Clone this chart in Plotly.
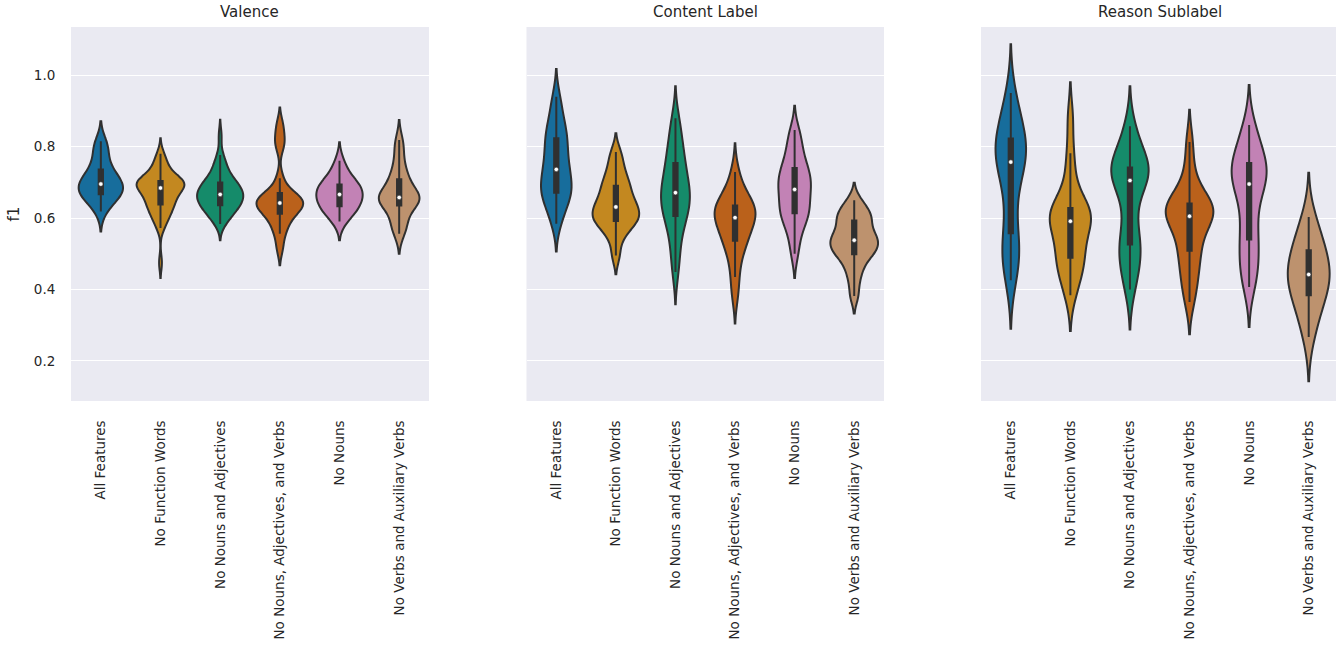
import colorsys

import numpy as np
import plotly.graph_objects as go

# ---- categories / panels -------------------------------------------------
CATEGORIES = [
    "All Features",
    "No Function Words",
    "No Nouns and Adjectives",
    "No Nouns, Adjectives, and Verbs",
    "No Nouns",
    "No Verbs and Auxiliary Verbs",
]
PANELS = ["Valence", "Content Label", "Reason Sublabel"]
PALETTE = ["#0173b2", "#de8f05", "#029e73", "#d55e00", "#cc78bc", "#ca9161"]

# ---- f1 scores per run, Valence -----------------------------------------
valence_all_features = [0.618, 0.640, 0.652, 0.660, 0.665, 0.668, 0.675, 0.682, 0.688, 0.693,
                        0.697, 0.702, 0.710, 0.720, 0.732, 0.740, 0.760, 0.785, 0.800, 0.815]
valence_no_function = [0.475, 0.572, 0.585, 0.596, 0.605, 0.612, 0.619, 0.625, 0.631, 0.636,
                       0.640, 0.645, 0.650, 0.655, 0.660, 0.665, 0.670, 0.674, 0.678, 0.682,
                       0.686, 0.689, 0.692, 0.694, 0.696, 0.698, 0.699, 0.700, 0.701, 0.702,
                       0.705, 0.709, 0.714, 0.720, 0.727, 0.735, 0.745, 0.755, 0.767, 0.780]
valence_no_nouns_adj = [0.583, 0.592, 0.600, 0.607, 0.613, 0.618, 0.623, 0.627, 0.631, 0.634,
                        0.637, 0.641, 0.645, 0.648, 0.651, 0.654, 0.657, 0.660, 0.662, 0.664,
                        0.668, 0.671, 0.674, 0.677, 0.680, 0.684, 0.688, 0.692, 0.695, 0.698,
                        0.701, 0.706, 0.712, 0.720, 0.728, 0.738, 0.748, 0.760, 0.776, 0.830]
valence_no_nouns_adj_verbs = [0.516, 0.556, 0.575, 0.592, 0.608, 0.616, 0.622, 0.630, 0.636, 0.640,
                              0.644, 0.648, 0.653, 0.660, 0.667, 0.673, 0.711, 0.800, 0.825, 0.861]
valence_no_nouns = [0.590, 0.605, 0.615, 0.624, 0.631, 0.635, 0.642, 0.650, 0.657, 0.663,
                    0.669, 0.674, 0.680, 0.686, 0.692, 0.696, 0.705, 0.718, 0.735, 0.760]
valence_no_verbs_aux = [0.556, 0.572, 0.590, 0.605, 0.630, 0.640, 0.645, 0.650, 0.653, 0.656,
                        0.659, 0.664, 0.672, 0.685, 0.705, 0.712, 0.730, 0.755, 0.790, 0.818]

# ---- f1 scores per run, Content Label -----------------------------------
content_all_features = [0.584, 0.615, 0.640, 0.655, 0.668, 0.674, 0.685, 0.700, 0.712, 0.728,
                        0.744, 0.758, 0.775, 0.795, 0.821, 0.826, 0.845, 0.870, 0.900, 0.939]
content_no_function = [0.495, 0.540, 0.565, 0.578, 0.589, 0.594, 0.602, 0.610, 0.618, 0.626,
                       0.636, 0.645, 0.655, 0.668, 0.686, 0.694, 0.710, 0.730, 0.755, 0.785]
content_no_nouns_adj = [0.449, 0.500, 0.540, 0.575, 0.600, 0.611, 0.625, 0.640, 0.652, 0.664,
                        0.678, 0.690, 0.703, 0.717, 0.748, 0.760, 0.780, 0.810, 0.840, 0.879]
content_no_nouns_adj_verbs = [0.385, 0.435, 0.480, 0.510, 0.533, 0.540, 0.555, 0.570, 0.585, 0.597,
                              0.605, 0.612, 0.618, 0.624, 0.632, 0.638, 0.648, 0.665, 0.690, 0.729]
content_no_nouns = [0.500, 0.545, 0.575, 0.595, 0.610, 0.616, 0.630, 0.645, 0.660, 0.673,
                    0.687, 0.698, 0.708, 0.718, 0.735, 0.745, 0.765, 0.790, 0.815, 0.846]
content_no_verbs_aux = [0.382, 0.425, 0.455, 0.475, 0.495, 0.502, 0.510, 0.518, 0.526, 0.534,
                        0.542, 0.550, 0.558, 0.567, 0.589, 0.597, 0.605, 0.615, 0.630, 0.650]

# ---- f1 scores per run, Reason Sublabel ---------------------------------
reason_all_features = [0.426, 0.465, 0.490, 0.510, 0.540, 0.575, 0.640, 0.690, 0.725, 0.748,
                       0.765, 0.775, 0.785, 0.795, 0.815, 0.830, 0.850, 0.875, 0.905, 0.950]
reason_no_function = [0.384, 0.420, 0.450, 0.470, 0.485, 0.493, 0.520, 0.545, 0.565, 0.585,
                      0.597, 0.603, 0.610, 0.616, 0.624, 0.632, 0.660, 0.720, 0.781, 0.880]
reason_no_nouns_adj = [0.400, 0.440, 0.470, 0.495, 0.520, 0.532, 0.560, 0.610, 0.660, 0.695,
                       0.715, 0.722, 0.728, 0.734, 0.738, 0.745, 0.760, 0.790, 0.820, 0.857]
reason_no_nouns_adj_verbs = [0.365, 0.410, 0.440, 0.470, 0.505, 0.512, 0.545, 0.570, 0.588, 0.600,
                             0.610, 0.617, 0.623, 0.630, 0.636, 0.645, 0.660, 0.690, 0.740, 0.813]
reason_no_nouns = [0.407, 0.440, 0.465, 0.490, 0.535, 0.545, 0.580, 0.625, 0.660, 0.688,
                   0.702, 0.712, 0.722, 0.732, 0.750, 0.758, 0.775, 0.800, 0.830, 0.860]
reason_no_verbs_aux = [0.267, 0.300, 0.330, 0.355, 0.380, 0.388, 0.405, 0.420, 0.430, 0.438,
                       0.446, 0.455, 0.465, 0.478, 0.505, 0.515, 0.530, 0.550, 0.575, 0.603]

# KDE bandwidths used for each violin
valence_bw = [0.028, 0.0215, 0.0225, 0.024, 0.026, 0.028]
content_bw = [0.039, 0.026, 0.045, 0.040, 0.034, 0.0245]
reason_bw = [0.068, 0.050, 0.056, 0.045, 0.056, 0.062]

panel_data = [
    [valence_all_features, valence_no_function, valence_no_nouns_adj,
     valence_no_nouns_adj_verbs, valence_no_nouns, valence_no_verbs_aux],
    [content_all_features, content_no_function, content_no_nouns_adj,
     content_no_nouns_adj_verbs, content_no_nouns, content_no_verbs_aux],
    [reason_all_features, reason_no_function, reason_no_nouns_adj,
     reason_no_nouns_adj_verbs, reason_no_nouns, reason_no_verbs_aux],
]
panel_bw = [valence_bw, content_bw, reason_bw]


def desaturate(hex_color, prop=0.75):
    """Reduce the HLS saturation of a colour (as violin fills usually are)."""
    r, g, b = (int(hex_color[i:i + 2], 16) / 255 for i in (1, 3, 5))
    h, l, s = colorsys.rgb_to_hls(r, g, b)
    r, g, b = colorsys.hls_to_rgb(h, l, s * prop)
    return "#{:02x}{:02x}{:02x}".format(round(r * 255), round(g * 255), round(b * 255))


FILLS = [desaturate(c) for c in PALETTE]
GRAY = "#303030"
TEXT = "#262626"
BG = "#eaeaf2"
FONT = "DejaVu Sans"

# ---- page geometry (pixels) ---------------------------------------------
W, H = 1336, 656
M_L, M_R, M_T, M_B = 71, 0, 27, 255
plot_w = W - M_L - M_R


def x_domain(a, b):
    return [(a - M_L) / plot_w, min(1.0, (b - M_L) / plot_w)]


DOMAINS = [x_domain(71, 429), x_domain(526.5, 884), x_domain(981, 1336)]
X_RANGES = [[-0.5, 5.5], [-0.5, 5.5], [-0.5, -0.5 + 6 * 355 / 357.5]]
# centre of the third panel as if it were not cut at the page edge
TITLE_X = [
    (DOMAINS[0][0] + DOMAINS[0][1]) / 2,
    (DOMAINS[1][0] + DOMAINS[1][1]) / 2,
    (981 + 357.5 / 2 - M_L) / plot_w,
]

fig = go.Figure()

for p, panel in enumerate(PANELS):
    xa = "x" if p == 0 else f"x{p + 1}"
    ya = "y" if p == 0 else f"y{p + 1}"
    groups = panel_data[p]
    for i, cat in enumerate(CATEGORIES):
        vals = groups[i]
        fig.add_trace(go.Violin(
            x=[cat] * len(vals),
            y=vals,
            xaxis=xa,
            yaxis=ya,
            name=cat,
            scalegroup=panel,
            scalemode="width",
            bandwidth=panel_bw[p][i],
            spanmode="soft",
            fillcolor=FILLS[i],
            opacity=1,
            line=dict(color=GRAY, width=2),
            points=False,
            box=dict(visible=True, width=0.09, fillcolor=GRAY,
                     line=dict(color=GRAY, width=2)),
            meanline=dict(visible=False),
            showlegend=False,
            hoverinfo="skip",
        ))
    # white median markers
    fig.add_trace(go.Scatter(
        x=CATEGORIES,
        y=[float(np.median(v)) for v in groups],
        xaxis=xa,
        yaxis=ya,
        mode="markers",
        marker=dict(color="white", size=4.5, line=dict(color=GRAY, width=0.6)),
        showlegend=False,
        hoverinfo="skip",
    ))

layout = dict(
    width=W,
    height=H,
    margin=dict(l=M_L, r=M_R, t=M_T, b=M_B),
    paper_bgcolor="white",
    plot_bgcolor=BG,
    font=dict(family=FONT, color=TEXT, size=14),
    violinmode="overlay",
    violingap=0.2,
    violingroupgap=0,
    showlegend=False,
)

for p, panel in enumerate(PANELS):
    xkey = "xaxis" if p == 0 else f"xaxis{p + 1}"
    ykey = "yaxis" if p == 0 else f"yaxis{p + 1}"
    layout[xkey] = dict(
        domain=DOMAINS[p],
        anchor="y" if p == 0 else f"y{p + 1}",
        type="category",
        categoryorder="array",
        categoryarray=CATEGORIES,
        range=X_RANGES[p],
        tickangle=-90,
        showgrid=False,
        zeroline=False,
        showline=False,
        ticks="outside",
        ticklen=13,
        tickcolor="rgba(0,0,0,0)",
        tickfont=dict(family=FONT, size=13.5, color=TEXT),
    )
    layout[ykey] = dict(
        domain=[0, 1],
        anchor="x" if p == 0 else f"x{p + 1}",
        range=[0.088, 1.1345],
        tickvals=[0.2, 0.4, 0.6, 0.8, 1.0],
        tickformat=".1f",
        showgrid=True,
        gridcolor="white",
        gridwidth=1.4,
        zeroline=False,
        showline=False,
        showticklabels=(p == 0),
        ticks="outside",
        ticklen=12,
        tickcolor="rgba(0,0,0,0)",
        tickfont=dict(family=FONT, size=13.5, color=TEXT),
    )
    if p > 0:
        layout[ykey]["matches"] = "y"

layout["yaxis"]["title"] = dict(text="f1", font=dict(family=FONT, size=15, color=TEXT), standoff=10)

layout["annotations"] = [
    dict(
        text=panel,
        xref="paper",
        yref="paper",
        x=TITLE_X[p],
        y=1,
        xanchor="center",
        yanchor="bottom",
        yshift=4,
        showarrow=False,
        font=dict(family=FONT, size=15, color=TEXT),
    )
    for p, panel in enumerate(PANELS)
]

fig.update_layout(**layout)
fig.write_html("out.html")
